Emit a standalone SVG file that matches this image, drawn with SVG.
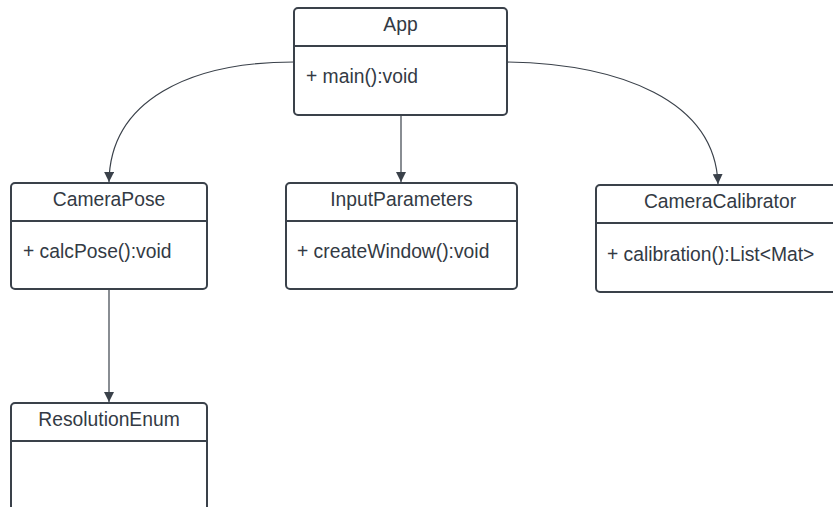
<svg xmlns="http://www.w3.org/2000/svg" width="833" height="507" viewBox="0 0 833 507">
<defs>
<style>
.box{fill:#fff;stroke:#3a414a;stroke-width:2}
.div{stroke:#3a414a;stroke-width:2}
.t{font-family:"Liberation Sans",Arial,sans-serif;font-size:19.3px;fill:#333a44}
.h{text-anchor:middle}
.c{fill:none;stroke:#3a414a;stroke-width:1.2}
</style>
<marker id="arr" viewBox="0 0 10 10" refX="10" refY="5" markerWidth="10" markerHeight="10" markerUnits="userSpaceOnUse" orient="auto">
<path d="M0,0 L10,5 L0,10 Z" fill="#3a414a"/>
</marker>
</defs>
<rect width="833" height="507" fill="#fff"/>
<g id="connectors">
<path class="c" d="M294,62 C190,62 110,100 109,182" marker-end="url(#arr)"/>
<path class="c" d="M507,62 C620,64 715,100 718,184" marker-end="url(#arr)"/>
<path class="c" d="M401,115 L401,182" marker-end="url(#arr)"/>
<path class="c" d="M109,289 L109,402" marker-end="url(#arr)"/>
</g>
<g id="App">
<rect class="box" x="294" y="8" width="213" height="107" rx="4"/>
<line class="div" x1="294" y1="46" x2="507" y2="46"/>
<text class="t h" x="400.5" y="31">App</text>
<text class="t" x="306" y="83">+ main():void</text>
</g>
<g id="CameraPose">
<rect class="box" x="11" y="183" width="196" height="106" rx="4"/>
<line class="div" x1="11" y1="221" x2="207" y2="221"/>
<text class="t h" x="109" y="206">CameraPose</text>
<text class="t" x="23" y="258">+ calcPose():void</text>
</g>
<g id="InputParameters">
<rect class="box" x="286" y="183" width="231" height="106" rx="4"/>
<line class="div" x1="286" y1="221" x2="517" y2="221"/>
<text class="t h" x="401.5" y="206">InputParameters</text>
<text class="t" x="297" y="258">+ createWindow():void</text>
</g>
<g id="CameraCalibrator">
<rect class="box" x="596" y="185" width="250" height="107" rx="4"/>
<line class="div" x1="596" y1="223" x2="846" y2="223"/>
<text class="t h" x="720" y="208">CameraCalibrator</text>
<text class="t" x="607" y="261">+ calibration():List&lt;Mat&gt;</text>
</g>
<g id="ResolutionEnum">
<rect class="box" x="11" y="403" width="196" height="120" rx="4"/>
<line class="div" x1="11" y1="441" x2="207" y2="441"/>
<text class="t h" x="109" y="426">ResolutionEnum</text>
</g>
</svg>
